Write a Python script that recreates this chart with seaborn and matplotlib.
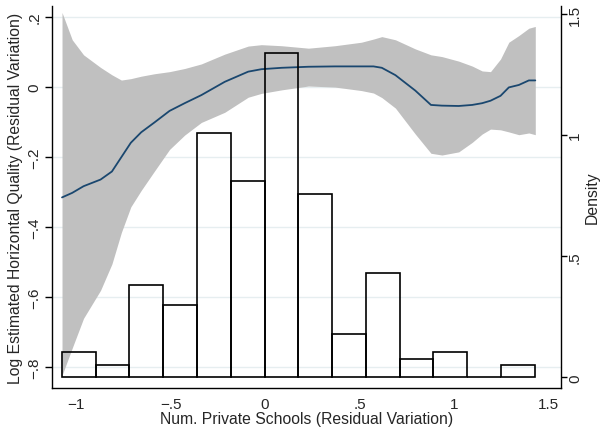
import numpy as np
import pandas as pd
import matplotlib
matplotlib.use("Agg")
import matplotlib.pyplot as plt
import seaborn as sns

# ---- data ----
x_grid = [-1.074, -1.02, -0.96, -0.87, -0.81, -0.76, -0.71, -0.655, -0.585, -0.505,
          -0.425, -0.337, -0.213, -0.089, -0.019, 0.088, 0.23, 0.37, 0.51, 0.574,
          0.618, 0.69, 0.795, 0.878, 0.936, 1.025, 1.096, 1.149, 1.193, 1.246,
          1.29, 1.343, 1.396, 1.43]
fit = [-0.315, -0.302, -0.283, -0.264, -0.241, -0.200, -0.159, -0.129, -0.101, -0.068,
       -0.046, -0.023, 0.015, 0.044, 0.051, 0.055, 0.058, 0.059, 0.059, 0.059,
       0.055, 0.034, -0.010, -0.051, -0.053, -0.054, -0.051, -0.046, -0.039, -0.025,
       -0.001, 0.006, 0.019, 0.019]
ci_upper = [0.213, 0.135, 0.092, 0.056, 0.035, 0.020, 0.024, 0.031, 0.038, 0.044,
            0.053, 0.066, 0.094, 0.117, 0.121, 0.118, 0.111, 0.118, 0.128, 0.137,
            0.144, 0.135, 0.109, 0.092, 0.087, 0.074, 0.060, 0.046, 0.044, 0.080,
            0.128, 0.147, 0.168, 0.173]
ci_lower = [-0.823, -0.745, -0.660, -0.580, -0.505, -0.415, -0.342, -0.295, -0.240, -0.178,
            -0.137, -0.101, -0.072, -0.029, -0.018, -0.008, 0.003, 0.000, -0.010, -0.017,
            -0.030, -0.060, -0.134, -0.189, -0.194, -0.185, -0.158, -0.134, -0.120, -0.122,
            -0.128, -0.136, -0.131, -0.136]

bin_edges = [-1.074, -0.895, -0.717, -0.538, -0.359, -0.181, -0.002, 0.177,
             0.356, 0.534, 0.713, 0.891, 1.070, 1.248, 1.430]
bin_density = [0.103, 0.050, 0.380, 0.300, 1.010, 0.810, 1.340, 0.756,
               0.178, 0.430, 0.074, 0.103, 0.0, 0.050]

x_ticks = [-1, -0.5, 0, 0.5, 1, 1.5]
x_ticklabels = ["\u22121", "\u2212.5", "0", ".5", "1", "1.5"]
yl_ticks = [-0.8, -0.6, -0.4, -0.2, 0, 0.2]
yl_ticklabels = ["\u2212.8", "\u2212.6", "\u2212.4", "\u2212.2", "0", ".2"]
yr_ticks = [0, 0.5, 1, 1.5]
yr_ticklabels = ["0", ".5", "1", "1.5"]

# ---- styling ----
sns.set_style("white")
plt.rcParams["font.family"] = ["Liberation Sans", "DejaVu Sans"]

fig = plt.figure(figsize=(6.04, 4.31), dpi=100)
ax = fig.add_axes([52 / 604, 1 - 389 / 431, (561 - 52) / 604, (389 - 7) / 431])

fs = 11.3
tfs = 11
line_col = "#1a476f"
grid_col = "#e6eef0"

ax.fill_between(x_grid, ci_lower, ci_upper, color="#c0c0c0", lw=0, zorder=1)
df_fit = pd.DataFrame({"x": x_grid, "y": fit})
sns.lineplot(data=df_fit, x="x", y="y", color=line_col, lw=1.3, ax=ax, zorder=3)

ax.set_xlim(-1.127, 1.566)
ax.set_ylim(-0.859, 0.2314)
ax.set_xticks(x_ticks)
ax.set_xticklabels(x_ticklabels, fontsize=tfs)
ax.set_yticks(yl_ticks)
ax.set_yticklabels(yl_ticklabels, fontsize=tfs, rotation=90, va="center")
ax.yaxis.grid(True, color=grid_col, lw=1.0, zorder=0)
ax.set_axisbelow(True)
ax.set_xlabel("Num. Private Schools (Residual Variation)", fontsize=fs, labelpad=0)
ax.set_ylabel("Log Estimated Horizontal Quality (Residual Variation)", fontsize=fs, labelpad=3)
ax.tick_params(axis="x", direction="out", length=5, width=1, color="black", pad=1.5)
ax.tick_params(axis="y", direction="out", length=5, width=1, color="black", pad=2.5)
for s in ["left", "bottom"]:
    ax.spines[s].set_color("black")
    ax.spines[s].set_linewidth(1)
ax.spines["top"].set_visible(False)
ax.spines["right"].set_visible(False)

# histogram on the right axis
ax2 = ax.twinx()
centers = [(a + b) / 2 for a, b in zip(bin_edges[:-1], bin_edges[1:])]
df_hist = pd.DataFrame({"x": centers, "w": bin_density})
sns.histplot(data=df_hist, x="x", weights="w", bins=bin_edges, stat="count",
             fill=False, color="black", linewidth=1.2, ax=ax2)
ax2.set_ylim(-0.044, 1.533)
ax2.set_xlim(-1.127, 1.566)
ax2.set_yticks(yr_ticks)
ax2.set_yticklabels(yr_ticklabels, fontsize=tfs, rotation=90, va="center")
ax2.set_ylabel("Density", fontsize=fs, labelpad=2)
ax2.yaxis.set_label_position("right")
ax2.tick_params(axis="y", direction="out", length=4.5, width=1, color="black", pad=0.5)
ax2.spines["right"].set_visible(True)
ax2.spines["right"].set_color("black")
ax2.spines["right"].set_linewidth(1)
ax2.spines["top"].set_visible(False)
ax2.spines["left"].set_visible(False)
ax2.spines["bottom"].set_visible(False)
ax2.grid(False)

fig.savefig("out.png", dpi=100)
